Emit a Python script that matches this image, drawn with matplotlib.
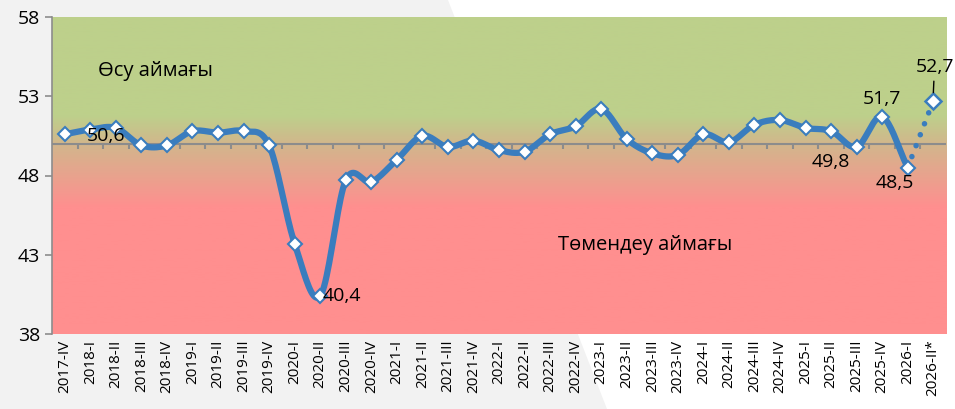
import numpy as np
import matplotlib.pyplot as plt
from matplotlib.colors import LinearSegmentedColormap

plt.rcParams['font.family'] = ['Open Sans', 'DejaVu Sans']

# Дані: квартали і значення індексу
quarters = ["2017-IV",
            "2018-I", "2018-II", "2018-III", "2018-IV",
            "2019-I", "2019-II", "2019-III", "2019-IV",
            "2020-I", "2020-II", "2020-III", "2020-IV",
            "2021-I", "2021-II", "2021-III", "2021-IV",
            "2022-I", "2022-II", "2022-III", "2022-IV",
            "2023-I", "2023-II", "2023-III", "2023-IV",
            "2024-I", "2024-II", "2024-III", "2024-IV",
            "2025-I", "2025-II", "2025-III", "2025-IV",
            "2026-I", "2026-II*"]
values = [50.6,
          50.9, 51.0, 49.9, 49.9,
          50.8, 50.7, 50.8, 49.9,
          43.7, 40.4, 47.7, 47.6,
          49.0, 50.5, 49.8, 50.2,
          49.6, 49.5, 50.6, 51.1,
          52.2, 50.3, 49.4, 49.3,
          50.6, 50.1, 51.2, 51.5,
          51.0, 50.8, 49.8, 51.7,
          48.5, 52.7]
yticks = [38, 43, 48, 53, 58]
threshold = 50
zone_up = "Өсу аймағы"
zone_down = "Төмендеу аймағы"

BLUE = "#3A7DBE"


def smooth(x, y, n=20):
    # Catmull-Rom, як згладжена лінія в Excel
    x = np.asarray(x, float)
    y = np.asarray(y, float)
    px = np.concatenate([[2 * x[0] - x[1]], x, [2 * x[-1] - x[-2]]])
    py = np.concatenate([[2 * y[0] - y[1]], y, [2 * y[-1] - y[-2]]])
    xs, ys = [], []
    for i in range(1, len(px) - 2):
        t = np.linspace(0, 1, n, endpoint=False)
        for p, out in ((px, xs), (py, ys)):
            p0, p1, p2, p3 = p[i - 1], p[i], p[i + 1], p[i + 2]
            out.append(0.5 * ((2 * p1) + (-p0 + p2) * t
                              + (2 * p0 - 5 * p1 + 4 * p2 - p3) * t ** 2
                              + (-p0 + 3 * p1 - 3 * p2 + p3) * t ** 3))
    xs.append([x[-1]])
    ys.append([y[-1]])
    return np.concatenate(xs), np.concatenate(ys)


fig = plt.figure(figsize=(9.55, 4.09), dpi=100)
fig.patch.set_facecolor("#F2F2F2")
# білий декоративний клин праворуч
fig.patches.append(plt.Polygon([(448 / 955, 1), (1, 1), (1, 0), (607 / 955, 0)],
                               transform=fig.transFigure, facecolor="white",
                               edgecolor="none", zorder=-5))

ax = fig.add_axes([52 / 955, 75 / 409, 894 / 955, 317 / 409])
ax.set_zorder(1)
n = len(quarters)
x = np.arange(n)
ax.set_xlim(-0.5, n - 0.5)
ax.set_ylim(38, 58)

# градієнтний фон
cmap = LinearSegmentedColormap.from_list("zone", [(0, "#FF8F8F"), (0.4, "#FF8F8F"),
                                                  (0.7, "#D2B68C"), (0.85, "#BDD08B"),
                                                  (1, "#BDD08B")])
grad = np.interp(np.linspace(38, 58, 400),
                 [38, 46, 50, 51.8, 58], [0, 0.4, 0.7, 0.85, 1]).reshape(-1, 1)
ax.imshow(grad, cmap=cmap, vmin=0, vmax=1, aspect="auto", origin="lower",
          extent=[-0.5, n - 0.5, 38, 58], zorder=0)

# лінія порогу 50 з рисками між кварталами
ax.axhline(threshold, color="#8C8C8C", lw=1.5, zorder=1)
ax.vlines(np.arange(n - 1) + 0.5, threshold - 0.35, threshold, color="#8C8C8C",
          lw=1.5, zorder=1)

sx, sy = smooth(x[:-1], values[:-1])
ax.plot(sx, sy, color=BLUE, lw=4.5, solid_capstyle="round", zorder=2)
ax.plot(x[-2:], values[-2:], color=BLUE, lw=4, linestyle=(0, (0.01, 2.1)),
        dash_capstyle="round", zorder=2)
ax.plot(x[:-1], values[:-1], linestyle="none", marker="D", ms=7.5, mfc="white",
        mec=BLUE, mew=1.5, zorder=3)
ax.plot(x[-1], values[-1], linestyle="none", marker="D", ms=8, mfc="white",
        mec=BLUE, mew=1.8, zorder=3)


def fmt(v):
    return f"{v:.1f}".replace(".", ",")


lab = dict(fontsize=14, color="black", zorder=4)
ax.text(x[0] + 0.85, values[0] - 0.1, fmt(values[0]), ha="left", va="center", **lab)
i = quarters.index("2020-II")
ax.text(x[i] + 0.1, values[i], fmt(values[i]), ha="left", va="center", **lab)
i = quarters.index("2025-III")
ax.text(x[i] - 0.25, values[i] - 0.4, fmt(values[i]), ha="right", va="top", **lab)
i = quarters.index("2025-IV")
ax.text(x[i], values[i] + 0.55, fmt(values[i]), ha="center", va="bottom", **lab)
i = quarters.index("2026-I")
ax.text(x[i] - 0.5, values[i] - 0.4, fmt(values[i]), ha="center", va="top", **lab)
ax.annotate(fmt(values[-1]), xy=(x[-1], values[-1] + 0.35),
            xytext=(x[-1] + 0.05, values[-1] + 1.6), ha="center", va="bottom",
            fontsize=14, arrowprops=dict(arrowstyle="-", color="black", lw=1))

ax.text(1.3, 54.6, zone_up, fontsize=14.5, ha="left", va="center")
ax.text(19.3, 43.6, zone_down, fontsize=14.5, ha="left", va="center")

ax.set_xticks(x)
ax.set_xticklabels(quarters, rotation=90, fontsize=11)
ax.tick_params(axis="x", length=0, pad=4)
ax.set_yticks(yticks)
ax.tick_params(axis="y", labelsize=14, color="#8C8C8C", length=5, width=1.2)
for s in ["top", "right", "bottom"]:
    ax.spines[s].set_visible(False)
ax.spines["left"].set_color("#8C8C8C")
ax.spines["left"].set_linewidth(1.2)

fig.savefig("out.png", dpi=100, facecolor=fig.get_facecolor())
